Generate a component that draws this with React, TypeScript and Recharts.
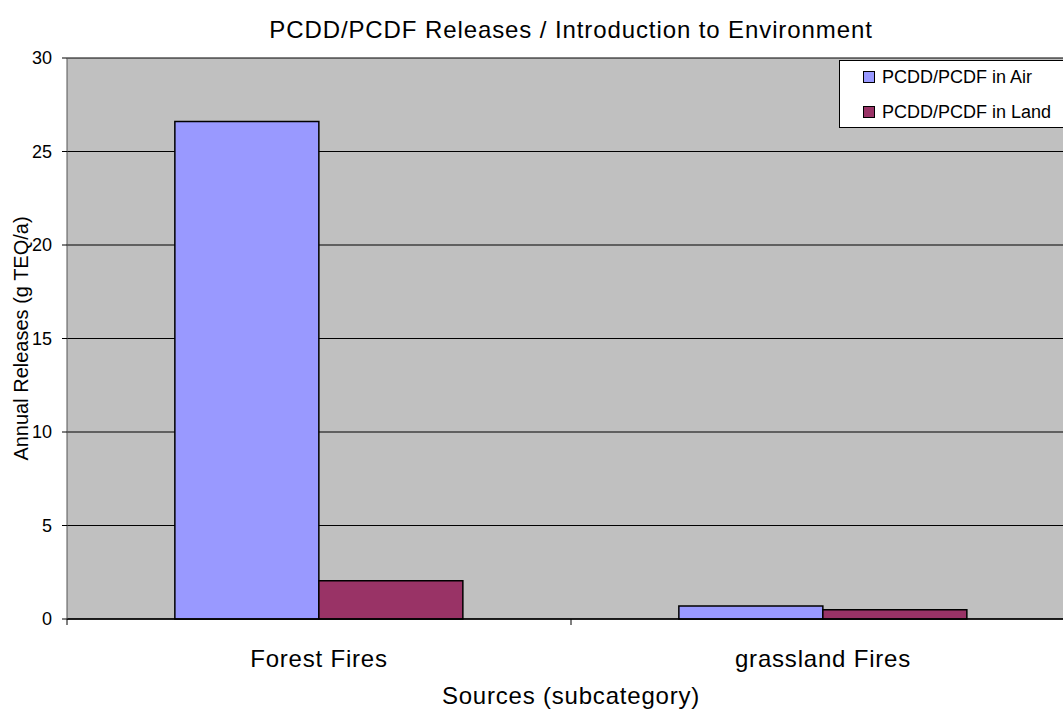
import React from 'react';
import { BarChart, Bar, XAxis, YAxis, CartesianGrid, Legend } from 'recharts';

const categories = ['Forest Fires', 'grassland Fires'];
const airValues = [26.6, 0.7];
const landValues = [2.05, 0.5];
const yTicks = [0, 5, 10, 15, 20, 25, 30];
const seriesNames = ['PCDD/PCDF in Air', 'PCDD/PCDF in Land'];
const seriesColors = ['#9999ff', '#993366'];

const data = categories.map((c, i) => ({ name: c, air: airValues[i], land: landValues[i] }));

const FONT = '"Liberation Sans", Arial, sans-serif';

const CatTick = (props: any) => {
  const { x, y, payload, index } = props;
  const band = 504;
  return (
    <g>
      <line x1={x - band / 2} y1={y - 8} x2={x - band / 2} y2={y - 2} stroke="#000" />
      {index === categories.length - 1 && (
        <line x1={x + band / 2} y1={y - 8} x2={x + band / 2} y2={y - 2} stroke="#000" />
      )}
      <text x={x} y={y + 40} textAnchor="middle" fontSize={24} letterSpacing={0.8} fontFamily={FONT} fill="#000">
        {payload.value}
      </text>
    </g>
  );
};

const LegendBox = () => (
  <div
    style={{
      border: '1px solid #000',
      background: '#fff',
      width: 240,
      height: 68,
      boxSizing: 'border-box',
      fontFamily: FONT,
      fontSize: 18,
      paddingTop: 4,
      lineHeight: '24px',
      textAlign: 'left',
    }}
  >
    {seriesNames.map((n, i) => (
      <div key={n} style={{ display: 'flex', alignItems: 'center', height: 24, marginBottom: i === 0 ? 11 : 0 }}>
        <span
          style={{
            display: 'inline-block',
            width: 10,
            height: 10,
            background: seriesColors[i],
            border: '1px solid #000',
            marginLeft: 23,
            marginRight: 7,
          }}
        />
        <span>{n}</span>
      </div>
    ))}
  </div>
);

export default function App() {
  return (
    <div style={{ position: 'absolute', left: 0, top: 0, width: 1063, height: 712, overflow: 'hidden', background: '#fff' }}>
      <div
        style={{
          position: 'absolute',
          left: 0,
          width: 1142,
          top: 16,
          textAlign: 'center',
          fontFamily: FONT,
          fontSize: 24,
          letterSpacing: 0.9,
          lineHeight: '28px',
        }}
      >
        PCDD/PCDF Releases / Introduction to Environment
      </div>
      <BarChart
        width={1140}
        height={712}
        data={data}
        margin={{ top: 58, right: 65, bottom: 0, left: 0 }}
        barCategoryGap="21.4%"
        barGap={0}
      >
        <CartesianGrid vertical={false} stroke="#000" fill="#c0c0c0" strokeOpacity={1} />
        <XAxis
          dataKey="name"
          height={93}
          axisLine={{ stroke: '#000', strokeWidth: 1.5 }}
          tickLine={false}
          tick={<CatTick />}
          interval={0}
          label={(p: any) => {
            const vb = p.viewBox;
            return (
              <text x={571} y={vb.y + 85} textAnchor="middle" fontSize={24} letterSpacing={0.8} fontFamily={FONT} fill="#000">
                Sources (subcategory)
              </text>
            );
          }}
        />
        <YAxis
          width={67}
          domain={[0, 30]}
          ticks={yTicks}
          interval={0}
          axisLine={{ stroke: '#555' }}
          tickLine={{ stroke: '#000' }}
          tickSize={5}
          tickMargin={10}
          tick={{ fontSize: 18, fontFamily: FONT, fill: '#000' }}
          label={(p: any) => {
            const vb = p.viewBox;
            const cx = 21;
            const cy = vb.y + vb.height / 2;
            return (
              <text
                x={cx}
                y={cy}
                textAnchor="middle"
                dominantBaseline="central"
                transform={`rotate(-90 ${cx} ${cy})`}
                fontSize={20}
                fontFamily={FONT}
                fill="#000"
              >
                Annual Releases (g TEQ/a)
              </text>
            );
          }}
        />
        <Legend
          content={<LegendBox />}
          layout="horizontal"
          verticalAlign="middle"
          align="center"
          wrapperStyle={{ position: 'absolute', left: 839, top: 60, width: 240 }}
        />
        <Bar dataKey="air" name={seriesNames[0]} fill={seriesColors[0]} stroke="#000" strokeWidth={1.5} isAnimationActive={false} />
        <Bar dataKey="land" name={seriesNames[1]} fill={seriesColors[1]} stroke="#000" strokeWidth={1.5} isAnimationActive={false} />
      </BarChart>
    </div>
  );
}
